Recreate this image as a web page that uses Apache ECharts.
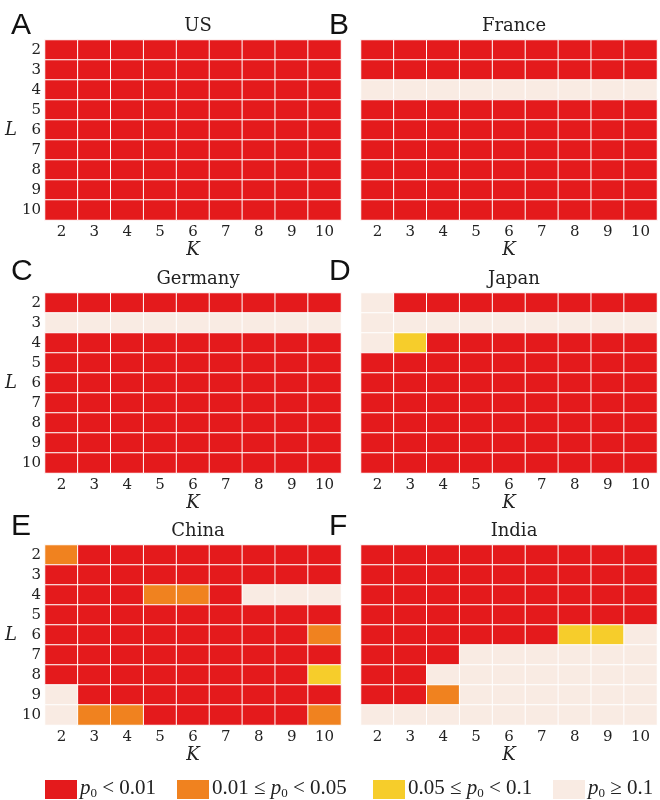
<!DOCTYPE html>
<html>
<head>
<meta charset="utf-8">
<script src="https://cdn.jsdelivr.net/npm/echarts@6/dist/echarts.min.js"></script>
<style>
html, body { margin: 0; padding: 0; background: #fff; }
#chart { width: 660px; height: 800px; }
</style>
</head>
<body>
<div id="chart"></div>
<script>
// K along x, L along y (top to bottom)
var Ks = ['2', '3', '4', '5', '6', '7', '8', '9', '10'];
var Ls = ['2', '3', '4', '5', '6', '7', '8', '9', '10'];
var countries = ['US', 'France', 'Germany', 'Japan', 'China', 'India'];
var letters = ['A', 'B', 'C', 'D', 'E', 'F'];
// 0: p0<0.01, 1: 0.01<=p0<0.05, 2: 0.05<=p0<0.1, 3: p0>=0.1
var classColors = ['#e41a1c', '#f0821f', '#f6cd2b', '#f9ebe3'];

var US = [
	[0,0,0,0,0,0,0,0,0],
	[0,0,0,0,0,0,0,0,0],
	[0,0,0,0,0,0,0,0,0],
	[0,0,0,0,0,0,0,0,0],
	[0,0,0,0,0,0,0,0,0],
	[0,0,0,0,0,0,0,0,0],
	[0,0,0,0,0,0,0,0,0],
	[0,0,0,0,0,0,0,0,0],
	[0,0,0,0,0,0,0,0,0]
];
var France = [
	[0,0,0,0,0,0,0,0,0],
	[0,0,0,0,0,0,0,0,0],
	[3,3,3,3,3,3,3,3,3],
	[0,0,0,0,0,0,0,0,0],
	[0,0,0,0,0,0,0,0,0],
	[0,0,0,0,0,0,0,0,0],
	[0,0,0,0,0,0,0,0,0],
	[0,0,0,0,0,0,0,0,0],
	[0,0,0,0,0,0,0,0,0]
];
var Germany = [
	[0,0,0,0,0,0,0,0,0],
	[3,3,3,3,3,3,3,3,3],
	[0,0,0,0,0,0,0,0,0],
	[0,0,0,0,0,0,0,0,0],
	[0,0,0,0,0,0,0,0,0],
	[0,0,0,0,0,0,0,0,0],
	[0,0,0,0,0,0,0,0,0],
	[0,0,0,0,0,0,0,0,0],
	[0,0,0,0,0,0,0,0,0]
];
var Japan = [
	[3,0,0,0,0,0,0,0,0],
	[3,3,3,3,3,3,3,3,3],
	[3,2,0,0,0,0,0,0,0],
	[0,0,0,0,0,0,0,0,0],
	[0,0,0,0,0,0,0,0,0],
	[0,0,0,0,0,0,0,0,0],
	[0,0,0,0,0,0,0,0,0],
	[0,0,0,0,0,0,0,0,0],
	[0,0,0,0,0,0,0,0,0]
];
var China = [
	[1,0,0,0,0,0,0,0,0],
	[0,0,0,0,0,0,0,0,0],
	[0,0,0,1,1,0,3,3,3],
	[0,0,0,0,0,0,0,0,0],
	[0,0,0,0,0,0,0,0,1],
	[0,0,0,0,0,0,0,0,0],
	[0,0,0,0,0,0,0,0,2],
	[3,0,0,0,0,0,0,0,0],
	[3,1,1,0,0,0,0,0,1]
];
var India = [
	[0,0,0,0,0,0,0,0,0],
	[0,0,0,0,0,0,0,0,0],
	[0,0,0,0,0,0,0,0,0],
	[0,0,0,0,0,0,0,0,0],
	[0,0,0,0,0,0,2,2,3],
	[0,0,0,3,3,3,3,3,3],
	[0,0,3,3,3,3,3,3,3],
	[0,0,1,3,3,3,3,3,3],
	[3,3,3,3,3,3,3,3,3]
];
var matrices = [US, France, Germany, Japan, China, India];
var legendLabels = [
	'{i|p}{s|0} < 0.01',
	'0.01 ≤ {i|p}{s|0} < 0.05',
	'0.05 ≤ {i|p}{s|0} < 0.1',
	'{i|p}{s|0} ≥ 0.1'
];

var serif = '"DejaVu Serif", "Liberation Serif", serif';
var texSerif = '"Liberation Serif", serif';
var colLeft = [45, 361];
var rowTop = [40, 293, 545];
var letterTop = [6, 252, 507];
var gw = 296, gh = 180;

var grids = [], xAxes = [], yAxes = [], series = [], titles = [];
for (var p = 0; p < 6; p++) {
	var col = p % 2, row = Math.floor(p / 2);
	grids.push({left: colLeft[col], top: rowTop[row], width: gw, height: gh});
	xAxes.push({
		type: 'category', gridIndex: p, data: Ks,
		axisLine: {show: false}, axisTick: {show: false}, splitLine: {show: false},
		axisLabel: {fontFamily: serif, fontSize: 15, color: '#222', margin: 5},
		name: 'K', nameLocation: 'middle', nameGap: 19,
		nameTextStyle: {fontFamily: serif, fontStyle: 'italic', fontSize: 18, color: '#222'}
	});
	yAxes.push({
		type: 'category', gridIndex: p, data: Ls, inverse: true,
		axisLine: {show: false}, axisTick: {show: false}, splitLine: {show: false},
		axisLabel: {show: col == 0, fontFamily: serif, fontSize: 15, color: '#222', margin: 4},
		name: col == 0 ? 'L' : '', nameLocation: 'middle', nameGap: 22, nameRotate: 0,
		nameTextStyle: {fontFamily: serif, fontStyle: 'italic', fontSize: 18, color: '#222'}
	});
	var data = [];
	var m = matrices[p];
	for (var r = 0; r < Ls.length; r++) {
		for (var c = 0; c < Ks.length; c++) {
			data.push([c, r, m[r][c]]);
		}
	}
	series.push({
		type: 'heatmap', xAxisIndex: p, yAxisIndex: p, data: data,
		itemStyle: {borderColor: '#fff', borderWidth: 1},
		emphasis: {disabled: true}
	});
	titles.push({
		text: countries[p], left: colLeft[col] + gw / 2, textAlign: 'center',
		top: rowTop[row] - 28,
		textStyle: {fontFamily: serif, fontWeight: 'normal', fontSize: 18, color: '#222'}
	});
	titles.push({
		text: letters[p], left: col == 0 ? 6 : 324, top: letterTop[row],
		textStyle: {fontFamily: '"Liberation Sans", sans-serif', fontWeight: 'normal', fontSize: 30, color: '#111'}
	});
}

// legend drawn as boxes with rich text
var legX = [45, 177, 373, 553];
var legendItems = [];
for (var i = 0; i < 4; i++) {
	legendItems.push({
		type: 'rect', left: legX[i], top: 780,
		shape: {width: 32, height: 19},
		style: {fill: classColors[i]}
	});
	legendItems.push({
		type: 'text', left: legX[i] + 35, top: 778,
		style: {
			text: legendLabels[i],
			font: '21px ' + texSerif, fill: '#222',
			rich: {
				i: {fontFamily: texSerif, fontStyle: 'italic', fontSize: 21},
				s: {fontFamily: texSerif, fontSize: 13, padding: [10, 0, 0, 0]}
			}
		}
	});
}

var chart = echarts.init(document.getElementById('chart'));
chart.setOption({
	animation: false,
	backgroundColor: '#fff',
	title: titles,
	grid: grids,
	xAxis: xAxes,
	yAxis: yAxes,
	visualMap: {
		type: 'piecewise', show: false, dimension: 2,
		seriesIndex: [0, 1, 2, 3, 4, 5],
		pieces: [
			{value: 0, color: classColors[0]},
			{value: 1, color: classColors[1]},
			{value: 2, color: classColors[2]},
			{value: 3, color: classColors[3]}
		]
	},
	graphic: legendItems,
	series: series
});
</script>
</body>
</html>
